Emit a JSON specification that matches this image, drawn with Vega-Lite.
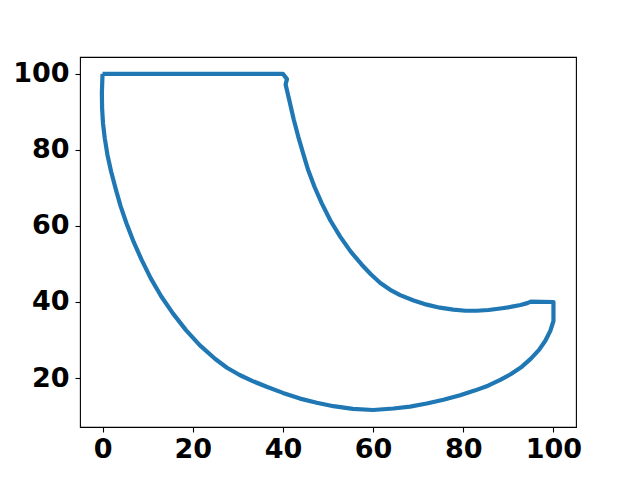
{
  "$schema": "https://vega.github.io/schema/vega-lite/v6.json",
  "width": 496,
  "height": 370,
  "autosize": {"type": "none"},
  "padding": {"left": 80, "top": 57, "right": 64, "bottom": 53},
  "background": "white",
  "config": {
    "view": {"stroke": "black", "strokeWidth": 1.1},
    "axis": {
      "grid": false,
      "domain": false,
      "ticks": true,
      "tickColor": "black",
      "tickSize": 5,
      "tickWidth": 1.1,
      "labelFont": "DejaVu Sans",
      "labelFontSize": 27,
      "labelFontWeight": "bold",
      "labelColor": "black",
      "title": null
    }
  },
  "data": {
    "values": [
      {"i": 1, "x": 0, "y": 100},
      {"i": 2, "x": 40, "y": 100},
      {"i": 3, "x": 40.9, "y": 98.6},
      {"i": 4, "x": 40.6, "y": 97.2},
      {"i": 5, "x": 41.56, "y": 92.3},
      {"i": 6, "x": 42.4, "y": 88},
      {"i": 7, "x": 43.4, "y": 83.5},
      {"i": 8, "x": 44.5, "y": 79},
      {"i": 9, "x": 45.6, "y": 74.7},
      {"i": 10, "x": 47, "y": 70.3},
      {"i": 11, "x": 48.6, "y": 66.0},
      {"i": 12, "x": 50.5, "y": 61.5},
      {"i": 13, "x": 52.7, "y": 57.2},
      {"i": 14, "x": 55, "y": 53.3},
      {"i": 15, "x": 57.5, "y": 49.8},
      {"i": 16, "x": 59.5, "y": 47.3},
      {"i": 17, "x": 61.6, "y": 45.0},
      {"i": 18, "x": 63.8, "y": 43.2},
      {"i": 19, "x": 66.0, "y": 41.8},
      {"i": 20, "x": 69.0, "y": 40.4},
      {"i": 21, "x": 71.9, "y": 39.3},
      {"i": 22, "x": 74.8, "y": 38.5},
      {"i": 23, "x": 77.8, "y": 38.0},
      {"i": 24, "x": 80.5, "y": 37.7},
      {"i": 25, "x": 83.0, "y": 37.7},
      {"i": 26, "x": 85.6, "y": 37.9},
      {"i": 27, "x": 88.2, "y": 38.3},
      {"i": 28, "x": 90.5, "y": 38.7},
      {"i": 29, "x": 92.7, "y": 39.2},
      {"i": 30, "x": 94.2, "y": 39.7},
      {"i": 31, "x": 95, "y": 40.1},
      {"i": 32, "x": 100, "y": 40},
      {"i": 33, "x": 100, "y": 35},
      {"i": 34, "x": 99.3, "y": 32.4},
      {"i": 35, "x": 98.2, "y": 29.8},
      {"i": 36, "x": 96.8, "y": 27.4},
      {"i": 37, "x": 95.0, "y": 25.1},
      {"i": 38, "x": 93.0, "y": 23.0},
      {"i": 39, "x": 90.5, "y": 21.0},
      {"i": 40, "x": 88.2, "y": 19.5},
      {"i": 41, "x": 85.5, "y": 18.0},
      {"i": 42, "x": 82.5, "y": 16.7},
      {"i": 43, "x": 79.3, "y": 15.5},
      {"i": 44, "x": 75.6, "y": 14.3},
      {"i": 45, "x": 71.9, "y": 13.3},
      {"i": 46, "x": 68.2, "y": 12.5},
      {"i": 47, "x": 64.5, "y": 12.0},
      {"i": 48, "x": 60, "y": 11.6},
      {"i": 49, "x": 55.5, "y": 11.9},
      {"i": 50, "x": 51.2, "y": 12.6},
      {"i": 51, "x": 47.5, "y": 13.5},
      {"i": 52, "x": 43.8, "y": 14.6},
      {"i": 53, "x": 40, "y": 16.1},
      {"i": 54, "x": 36.4, "y": 17.7},
      {"i": 55, "x": 33.3, "y": 19.2},
      {"i": 56, "x": 30.4, "y": 20.8},
      {"i": 57, "x": 27.6, "y": 22.7},
      {"i": 58, "x": 25, "y": 25},
      {"i": 59, "x": 21.6, "y": 28.6},
      {"i": 60, "x": 18.5, "y": 32.6},
      {"i": 61, "x": 15.6, "y": 37.0},
      {"i": 62, "x": 13.0, "y": 41.5},
      {"i": 63, "x": 10.7, "y": 46.2},
      {"i": 64, "x": 8.7, "y": 51.0},
      {"i": 65, "x": 6.9, "y": 55.8},
      {"i": 66, "x": 5.3, "y": 60.7},
      {"i": 67, "x": 4.0, "y": 65.2},
      {"i": 68, "x": 2.9, "y": 69.8},
      {"i": 69, "x": 1.9, "y": 74.3},
      {"i": 70, "x": 1.1, "y": 78.6},
      {"i": 71, "x": 0.5, "y": 83},
      {"i": 72, "x": 0.1, "y": 87},
      {"i": 73, "x": -0.1, "y": 91},
      {"i": 74, "x": -0.15, "y": 95},
      {"i": 75, "x": 0, "y": 100}
    ]
  },
  "mark": {"type": "line", "color": "#1f77b4", "strokeWidth": 4.2, "strokeJoin": "round", "clip": true},
  "encoding": {
    "order": {"field": "i", "type": "quantitative"},
    "x": {
      "field": "x",
      "type": "quantitative",
      "scale": {"domain": [-5, 105], "nice": false, "zero": false},
      "axis": {"values": [0, 20, 40, 60, 80, 100], "labelPadding": 4}
    },
    "y": {
      "field": "y",
      "type": "quantitative",
      "scale": {"domain": [7.13, 104.42], "nice": false, "zero": false},
      "axis": {"values": [20, 40, 60, 80, 100], "labelPadding": 6}
    }
  }
}
